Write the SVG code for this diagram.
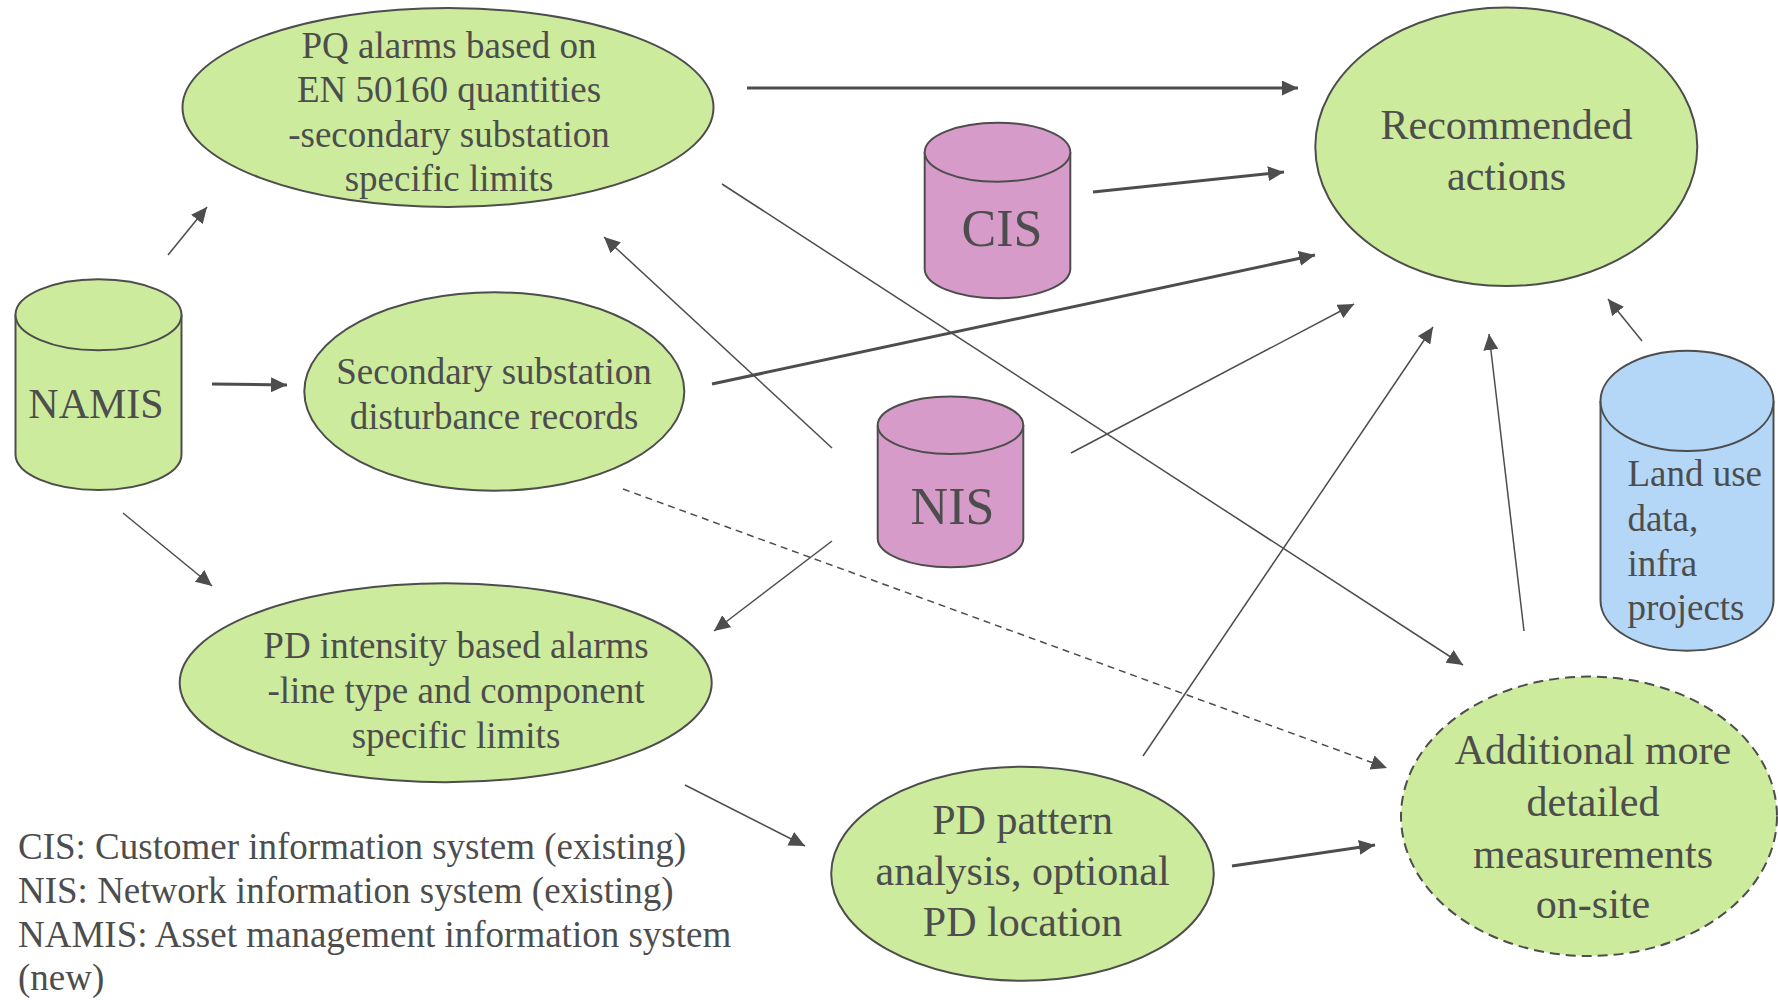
<svg xmlns="http://www.w3.org/2000/svg" width="1778" height="1000" viewBox="0 0 1778 1000">
<style>
text{font-family:"Liberation Serif","Times New Roman",serif;fill:#4d4d4d;text-anchor:middle}
.g{fill:#cceb9c;stroke:#4d4d4d;stroke-width:2}
.p{fill:#d69bc8;stroke:#4d4d4d;stroke-width:2}
.b{fill:#b5d7f7;stroke:#4d4d4d;stroke-width:2}
.s{font-size:37px}
.m{font-size:42px}
.l{font-size:52px}
.c line{stroke:#4d4d4d;stroke-width:1.5;fill:none;marker-end:url(#ah)}
.c line.t{stroke-width:3}
.c line.d{stroke-dasharray:7 5}
</style>
<defs>
<marker id="ah" markerUnits="userSpaceOnUse" markerWidth="17" markerHeight="15" refX="16" refY="7.5" orient="auto" viewBox="0 0 17 15">
<path d="M0,0 L16,7.5 L0,15 z" fill="#4d4d4d"/>
</marker>
</defs>
<rect width="1778" height="1000" fill="#fff"/>

<g class="c" id="connectors">
<line class="t" x1="747" y1="88" x2="1298" y2="88"/>
<line class="t" x1="1093" y1="192" x2="1284" y2="172"/>
<line class="t" x1="712" y1="384" x2="1315" y2="255"/>
<line x1="1071" y1="453" x2="1354" y2="304"/>
<line x1="1143" y1="756" x2="1433" y2="327"/>
<line x1="1524" y1="631" x2="1489" y2="334"/>
<line x1="1642" y1="341" x2="1608" y2="299"/>
<line x1="722" y1="184" x2="1463" y2="665"/>
<line x1="832" y1="448" x2="604" y2="237"/>
<line x1="168" y1="255" x2="207" y2="207"/>
<line class="t" x1="212" y1="384" x2="287" y2="385"/>
<line x1="123" y1="513" x2="212" y2="586"/>
<line x1="832" y1="541" x2="714" y2="631"/>
<line x1="685" y1="785" x2="805" y2="846"/>
<line class="d" x1="623" y1="489" x2="1387" y2="768"/>
<line class="t" x1="1232" y1="866" x2="1375" y2="845"/>
</g>

<g id="pq">
<ellipse class="g" cx="448" cy="107.5" rx="265.5" ry="99.5"/>
<text class="s" x="449" y="58">PQ alarms based on</text>
<text class="s" x="449" y="102">EN 50160 quantities</text>
<text class="s" x="449" y="147">-secondary substation</text>
<text class="s" x="449" y="191">specific limits</text>
</g>

<g id="namis">
<path class="g" d="M15.5,314.8 V454.5 A83,35.5 0 0 0 181.5,454.5 V314.8"/>
<ellipse class="g" cx="98.5" cy="314.8" rx="83" ry="35.5"/>
<text class="m" x="96" y="418">NAMIS</text>
</g>

<g id="secondary">
<ellipse class="g" cx="494.3" cy="391.5" rx="190" ry="99.2"/>
<text class="s" x="494" y="384">Secondary substation</text>
<text class="s" x="494" y="429">disturbance records</text>
</g>

<g id="pdintensity">
<ellipse class="g" cx="445.7" cy="682.8" rx="266" ry="99.5"/>
<text class="s" x="456" y="658">PD intensity based alarms</text>
<text class="s" x="456" y="703">-line type and component</text>
<text class="s" x="456" y="748">specific limits</text>
</g>

<g id="cis">
<path class="p" d="M924.7,152.2 V268.8 A72.8,29.5 0 0 0 1070.3,268.8 V152.2"/>
<ellipse class="p" cx="997.5" cy="152.2" rx="72.8" ry="29.5"/>
<text class="l" x="1002" y="246">CIS</text>
</g>

<g id="nis">
<path class="p" d="M877.7,425.3 V538.6 A72.8,28.7 0 0 0 1023.3,538.6 V425.3"/>
<ellipse class="p" cx="950.5" cy="425.3" rx="72.8" ry="28.7"/>
<text class="l" x="952.5" y="524">NIS</text>
</g>

<g id="recommended">
<ellipse class="g" cx="1506.3" cy="146.7" rx="191" ry="139.3"/>
<text class="m" x="1506.5" y="139">Recommended</text>
<text class="m" x="1506.5" y="190">actions</text>
</g>

<g id="landuse">
<path class="b" d="M1600.5,400.9 V600.5 A86.5,50.2 0 0 0 1773.5,600.5 V400.9"/>
<ellipse class="b" cx="1687" cy="400.9" rx="86.5" ry="50.2"/>
<text class="s" x="1627.4" y="486" style="text-anchor:start">Land use</text>
<text class="s" x="1627.4" y="531" style="text-anchor:start">data,</text>
<text class="s" x="1627.4" y="576" style="text-anchor:start">infra</text>
<text class="s" x="1627.4" y="620" style="text-anchor:start">projects</text>
</g>

<g id="pdpattern">
<ellipse class="g" cx="1022.5" cy="873.7" rx="191.3" ry="107"/>
<text class="m" x="1022.6" y="834">PD pattern</text>
<text class="m" x="1022.6" y="885">analysis, optional</text>
<text class="m" x="1022.6" y="936">PD location</text>
</g>

<g id="additional">
<ellipse class="g" cx="1589" cy="816.3" rx="188" ry="139.7" style="stroke-dasharray:10 6"/>
<text class="m" x="1593" y="764">Additional more</text>
<text class="m" x="1593" y="816">detailed</text>
<text class="m" x="1593" y="868">measurements</text>
<text class="m" x="1593" y="918">on-site</text>
</g>

<g id="legend">
<text class="s" x="18" y="859" style="text-anchor:start">CIS: Customer information system (existing)</text>
<text class="s" x="18" y="903" style="text-anchor:start">NIS: Network information system (existing)</text>
<text class="s" x="18" y="947" style="text-anchor:start">NAMIS: Asset management information system</text>
<text class="s" x="18" y="990" style="text-anchor:start">(new)</text>
</g>
</svg>
